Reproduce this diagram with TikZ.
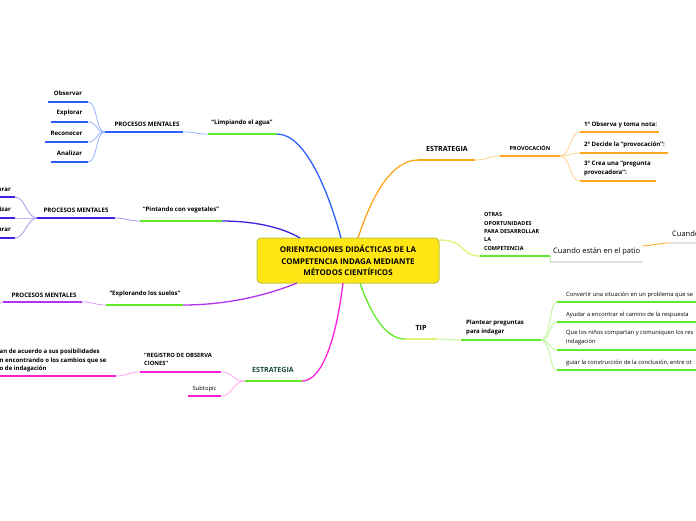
\documentclass[tikz,border=0pt]{standalone}
\usepackage{fontspec}
\setmainfont{Open Sans}
\definecolor{cblue}{RGB}{45,95,250}
\definecolor{cblueL}{RGB}{150,180,255}
\definecolor{cviob}{RGB}{60,35,225}
\definecolor{cviobL}{RGB}{160,150,240}
\definecolor{cviol}{RGB}{180,50,240}
\definecolor{cviolL}{RGB}{215,160,250}
\definecolor{cmag}{RGB}{255,30,220}
\definecolor{cmagL}{RGB}{255,165,240}
\definecolor{corg}{RGB}{255,165,30}
\definecolor{corgL}{RGB}{255,210,140}
\definecolor{cgrn}{RGB}{95,235,40}
\definecolor{cgrnL}{RGB}{185,245,150}
\definecolor{cyel}{RGB}{225,240,120}
\definecolor{cgray}{RGB}{226,226,226}
\definecolor{cfill}{RGB}{255,230,20}
\definecolor{cedge}{RGB}{190,200,60}
\definecolor{cdkgrn}{RGB}{25,75,60}
\tikzset{
  lbl/.style={inner sep=0pt, font=\bfseries\fontsize{6.1}{7.5}\selectfont},
  lblr/.style={inner sep=0pt, font=\fontsize{5.8}{8.6}\selectfont},
  big/.style={inner sep=0pt, font=\bfseries\fontsize{7.1}{8}\selectfont},
  ul/.style={line width=1.8pt},
  br/.style={line width=1.3pt},
  cn/.style={line width=0.8pt},
}
\begin{document}
\begin{tikzpicture}[x=1pt,y=-1pt]
\useasboundingbox (0,0) rectangle (696,520);

% central
\node[draw=cedge, fill=cfill, line width=1pt, rounded corners=4pt,
      minimum width=182pt, minimum height=45pt, align=center,
      font=\bfseries\fontsize{7.9}{11.8}\selectfont] (C) at (348,260.5)
  {ORIENTACIONES DIDÁCTICAS DE LA\\COMPETENCIA INDAGA MEDIANTE\\MÉTODOS CIENTÍFICOS};

% ---------- branch 1 : Limpiando el agua ----------
\coordinate (b1s) at (341,238);
\coordinate (b1r) at (277,134);
\coordinate (b1l) at (208,134);
\draw[cblue, br] (b1s) .. controls (328,190) and (305,134) .. (b1r);
\draw[cgrn, ul] (b1l) -- (b1r);
\node[lbl] (t1) at (242,123) {“Limpiando el agua”};
\coordinate (p1r) at (183,132);
\coordinate (p1l) at (105,132);
\draw[cblue, ul] (p1l) -- (p1r);
\draw[cblueL, cn] (p1r) .. controls (196,132) and (195,134) .. (b1l);
\node[lbl] (tp1) at (147,124) {PROCESOS MENTALES};
\foreach \nm/\xs/\yy in {obs/48/102, exp/51/122, rec/45/142, ana/51/162}{
  \coordinate (\nm l) at (\xs,\yy);
  \coordinate (\nm r) at (88,\yy);
  \draw[cblue, ul] (\nm l) -- (\nm r);
  \draw[cblueL, cn] (p1l) .. controls (95,132) and (98,\yy) .. (\nm r);
}
\node[lbl] (tobs) at (68,93) {Observar};
\node[lbl] (texp) at (69.5,113) {Explorar};
\node[lbl] (trec) at (66.5,133) {Reconocer};
\node[lbl] (tana) at (69.5,153) {Analizar};

% ---------- branch 2 : Pintando con vegetales ----------
\coordinate (b2s) at (300,238);
\coordinate (b2r) at (222,221);
\coordinate (b2l) at (140,221);
\draw[cviob, br] (b2s) .. controls (280,226) and (250,221) .. (b2r);
\draw[cgrn, ul] (b2l) -- (b2r);
\node[lbl] (t2) at (181,209.5) {“Pintando con vegetales”};
\coordinate (p2r) at (115,218);
\coordinate (p2l) at (37,218);
\draw[cviob, ul] (p2l) -- (p2r);
\draw[cviobL, cn] (p2r) .. controls (128,218) and (127,221) .. (b2l);
\node[lbl] (tp2) at (76,210) {PROCESOS MENTALES};
\foreach \nm/\yy in {qa/197, qb/218, qc/238}{
  \coordinate (\nm l) at (-8,\yy);
  \coordinate (\nm r) at (15,\yy);
  \draw[cviob, ul] (\nm l) -- (\nm r);
  \draw[cviobL, cn] (p2l) .. controls (27,218) and (25,\yy) .. (\nm r);
}
\node[lbl, anchor=east] (tqa) at (11,189.5) {orar};
\node[lbl, anchor=east] (tqb) at (11,209.5) {izar};
\node[lbl, anchor=east] (tqc) at (11,230) {arar};

% ---------- branch 3 : Explorando los suelos ----------
\coordinate (b3s) at (297,283);
\coordinate (b3r) at (183,305);
\coordinate (b3l) at (106,305);
\draw[cviol, br] (b3s) .. controls (260,298) and (220,305) .. (b3r);
\draw[cgrn, ul] (b3l) -- (b3r);
\node[lbl] (t3) at (145,294) {“Explorando los suelos”};
\coordinate (p3r) at (82,302);
\coordinate (p3l) at (3,302);
\coordinate (p3x) at (-12,312);
\draw[cviol, ul] (p3l) -- (p3r);
\draw[cviolL, cn] (p3r) .. controls (94,302) and (94,305) .. (b3l);
\draw[cviolL, cn] (p3l) .. controls (-4,302) and (-5,312) .. (p3x);
\node[lbl] (tp3) at (44,295) {PROCESOS MENTALES};

% ---------- branch 4 : ESTRATEGIA (bottom) ----------
\coordinate (b4s) at (343,283);
\coordinate (b4r) at (302,381);
\coordinate (b4l) at (245,381);
\draw[cmag, br] (b4s) .. controls (336,340) and (322,381) .. (b4r);
\draw[cgrn, ul] (b4l) -- (b4r);
\node[big, text=cdkgrn] (t4) at (273,370) {ESTRATEGIA};
\coordinate (r4l) at (140,372);
\coordinate (r4r) at (221,372);
\draw[cmag, ul] (r4l) -- (r4r);
\draw[cmagL, cn] (b4l) .. controls (233,381) and (233,372) .. (r4r);
\node[lbl, anchor=west, align=left, font=\bfseries\fontsize{5.8}{8.6}\selectfont] (tr4) at (144,359.5) {“REGISTRO DE OBSERVA\\CIONES”};
\coordinate (s4l) at (188,396);
\coordinate (s4r) at (221,396);
\draw[cmag, ul] (s4l) -- (s4r);
\draw[cmagL, cn] (b4l) .. controls (233,381) and (233,396) .. (s4r);
\node[lblr] (ts4) at (204.5,389) {Subtopic};
\coordinate (g4l) at (-8,376);
\coordinate (g4r) at (116,376);
\draw[cmag, ul] (g4l) -- (g4r);
\draw[cmagL, cn] (r4l) .. controls (128,372) and (128,376) .. (g4r);
\node[lbl, anchor=west, align=left, font=\bfseries\fontsize{6}{8.2}\selectfont] (tg4) at (-0.5,360.5)
  {an de acuerdo a sus posibilidades\\n encontrando o los cambios que se\\o de indagación};

% ---------- branch 5 : ESTRATEGIA (top right) ----------
\coordinate (b5s) at (358,238);
\coordinate (b5l) at (418,160);
\coordinate (b5r) at (475,160);
\draw[corg, br] (b5s) .. controls (372,195) and (392,160) .. (b5l);
\draw[corg, ul] (b5l) -- (b5r);
\node[big] (t5) at (447,149) {ESTRATEGIA};
\coordinate (v5l) at (500,156);
\coordinate (v5r) at (560,156);
\draw[corg, ul] (v5l) -- (v5r);
\draw[corgL, cn] (b5r) .. controls (488,160) and (487,156) .. (v5l);
\node[lbl, font=\bfseries\fontsize{5.5}{7}\selectfont] (tv5) at (530,148) {PROVOCACIÓN};
\foreach \nm/\xe/\yy in {ka/659/132, kb/668/153, kc/656/181}{
  \coordinate (\nm l) at (580,\yy);
  \coordinate (\nm r) at (\xe,\yy);
  \draw[corg, ul] (\nm l) -- (\nm r);
  \draw[corgL, cn] (v5r) .. controls (571,156) and (569,\yy) .. (\nm l);
}
\node[lbl, anchor=west] (tka) at (584,124.5) {1º Observa y toma nota:};
\node[lbl, anchor=west] (tkb) at (584,144.5) {2º Decide la “provocación”:};
\node[lbl, anchor=west, align=left, font=\bfseries\fontsize{6.1}{8.8}\selectfont] (tkc) at (584,168.5) {3º Crea una “pregunta\\provocadora”:};

% ---------- branch 6 : OTRAS OPORTUNIDADES ----------
\coordinate (b6s) at (439.5,240);
\coordinate (b6l) at (480,256);
\coordinate (b6r) at (550,256);
\draw[cyel, br] (b6s) .. controls (466,240) and (460,256) .. (b6l);
\draw[cgrn, ul] (b6l) -- (b6r);
\node[lbl, anchor=west, align=left, font=\bfseries\fontsize{5.5}{8.3}\selectfont] (t6) at (484,231.5)
  {OTRAS\\OPORTUNIDADES\\PARA DESARROLLAR\\LA\\COMPETENCIA};
\coordinate (c6l) at (550,262);
\coordinate (c6r) at (643,262);
\draw[cgray, ul] (c6l) -- (c6r);
\draw[cgrnL, cn] (b6r) -- (c6l);
\node[inner sep=0pt, anchor=west, font=\fontsize{7.5}{9}\selectfont] (tc6) at (553,251.5) {Cuando están en el patio};
\coordinate (d6a) at (642,246);
\coordinate (d6l) at (670,243);
\coordinate (d6r) at (705,243);
\draw[corg, cn] (d6a) .. controls (655,245) and (660,243) .. (d6l);
\draw[cgray, ul] (d6l) -- (d6r);
\node[inner sep=0pt, anchor=west, font=\fontsize{7.5}{9}\selectfont] (td6) at (672,233.5) {Cuando};

% ---------- branch 7 : TIP ----------
\coordinate (b7s) at (360,283);
\coordinate (b7l) at (405,339);
\coordinate (b7r) at (437,339);
\draw[cgrn, br] (b7s) .. controls (370,312) and (385,339) .. (b7l);
\draw[cyel, ul] (b7l) -- (b7r);
\node[big] (t7) at (421,328) {TIP};
\coordinate (q7l) at (461,340);
\coordinate (q7r) at (541,340);
\draw[cgrn, ul] (q7l) -- (q7r);
\draw[cgrnL, cn] (b7r) .. controls (449,339) and (449,340) .. (q7l);
\node[lbl, anchor=west, align=left, font=\bfseries\fontsize{6}{8.8}\selectfont] (tq7) at (466,327.5) {Plantear preguntas\\para indagar};
\foreach \nm/\yy in {ma/302, mb/322, mc/350, md/370}{
  \coordinate (\nm l) at (557,\yy);
  \coordinate (\nm r) at (705,\yy);
  \draw[cgrn, ul] (\nm l) -- (\nm r);
  \draw[cgrnL, cn] (q7r) .. controls (551,340) and (549,\yy) .. (\nm l);
}
\node[lblr, anchor=west] (tma) at (566,295) {Convertir una situación en un problema que se};
\node[lblr, anchor=west] (tmb) at (566,315) {Ayudar a encontrar el camino de la respuesta};
\node[lblr, anchor=west, align=left] (tmc) at (566,337.5) {Que los niños compartan y comuniquen los res\\indagación};
\node[lblr, anchor=west] (tmd) at (566,362.5) {guiar la construcción de la conclusión, entre ot};
\end{tikzpicture}
\end{document}
